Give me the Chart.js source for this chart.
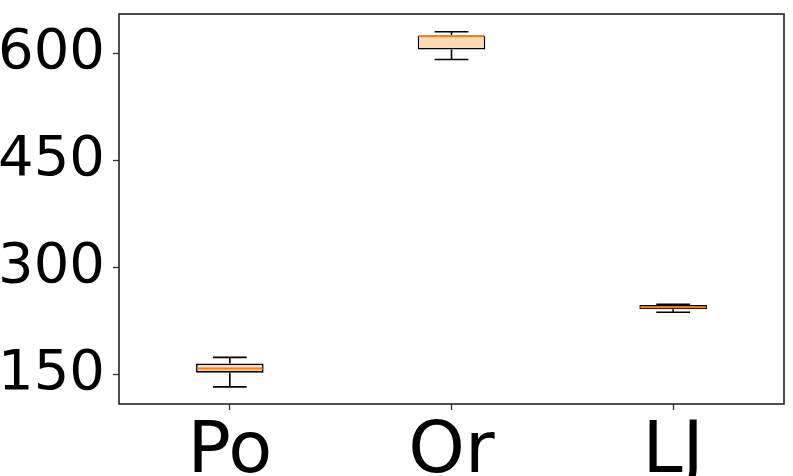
<!DOCTYPE html>
<html>
<head>
<meta charset="utf-8">
<script src="https://cdn.jsdelivr.net/npm/chart.js@4"></script>
<style>
  body { margin: 0; background: #fff; }
  #wrap { width: 793px; height: 476px; }
</style>
</head>
<body>
<div id="wrap"><canvas id="myChart"></canvas></div>
<script>
  var labels = ["Po", "Or", "LJ"];
  var whiskerLow = [132, 592, 237];
  var q1 = [152, 606, 241];
  var medians = [158, 625, 244];
  var q3 = [165, 625.5, 247];
  var whiskerHigh = [173.5, 631, 248];
  var yTicks = [150, 300, 450, 600];

  var boxes = labels.map(function (l, i) { return [q1[i], q3[i]]; });

  // whiskers, caps, medians and frame drawn with the chart's own scales
  var boxExtras = {
    id: "boxExtras",
    afterDatasetsDraw: function (chart) {
      var ctx = chart.ctx, x = chart.scales.x, y = chart.scales.y;
      var meta = chart.getDatasetMeta(0);
      ctx.save();
      labels.forEach(function (l, i) {
        var cx = x.getPixelForValue(i);
        var half = meta.data[i].width / 2;
        ctx.strokeStyle = "#000";
        ctx.lineWidth = 1.6;
        ctx.beginPath();
        ctx.moveTo(cx, y.getPixelForValue(q1[i]));
        ctx.lineTo(cx, y.getPixelForValue(whiskerLow[i]));
        ctx.moveTo(cx, y.getPixelForValue(q3[i]));
        ctx.lineTo(cx, y.getPixelForValue(whiskerHigh[i]));
        ctx.moveTo(cx - half / 2, y.getPixelForValue(whiskerLow[i]));
        ctx.lineTo(cx + half / 2, y.getPixelForValue(whiskerLow[i]));
        ctx.moveTo(cx - half / 2, y.getPixelForValue(whiskerHigh[i]));
        ctx.lineTo(cx + half / 2, y.getPixelForValue(whiskerHigh[i]));
        ctx.stroke();
        ctx.strokeStyle = "#ff7f0e";
        ctx.lineWidth = 2;
        ctx.beginPath();
        ctx.moveTo(cx - half + 1, y.getPixelForValue(medians[i]));
        ctx.lineTo(cx + half - 1, y.getPixelForValue(medians[i]));
        ctx.stroke();
      });
      var a = chart.chartArea;
      ctx.strokeStyle = "#222";
      ctx.lineWidth = 1.6;
      ctx.strokeRect(a.left, a.top, a.right - a.left, a.bottom - a.top);
      ctx.restore();
    }
  };

  new Chart("myChart", {
    type: "bar",
    data: {
      labels: labels,
      datasets: [{
        data: boxes,
        backgroundColor: "#ffdab9",
        borderColor: "#000",
        borderWidth: 1.6,
        borderSkipped: false,
        barPercentage: 0.305,
        categoryPercentage: 1
      }]
    },
    options: {
      animation: false,
      responsive: true,
      maintainAspectRatio: false,
      layout: { padding: { top: 14, right: 9, left: 0, bottom: 0 } },
      plugins: { legend: { display: false }, tooltip: { enabled: false } },
      scales: {
        x: {
          grid: { offset: false, drawOnChartArea: false, tickLength: 6, color: "#333", tickWidth: 1.3 },
          border: { display: false },
          ticks: { color: "#000", padding: 0, font: { family: "DejaVu Sans", size: 72 } },
          afterFit: function (s) { s.height = 72; s.paddingLeft = 0; s.paddingRight = 0; }
        },
        y: {
          min: 108,
          max: 656,
          grid: { drawOnChartArea: false, tickLength: 6, color: "#333", tickWidth: 1.3 },
          border: { display: false },
          ticks: { color: "#000", padding: 8, font: { family: "DejaVu Sans", size: 56 } },
          afterBuildTicks: function (s) { s.ticks = yTicks.map(function (v) { return { value: v }; }); },
          afterFit: function (s) { s.width = 119; s.paddingTop = 0; s.paddingBottom = 0; }
        }
      }
    },
    plugins: [boxExtras]
  });
</script>
</body>
</html>
